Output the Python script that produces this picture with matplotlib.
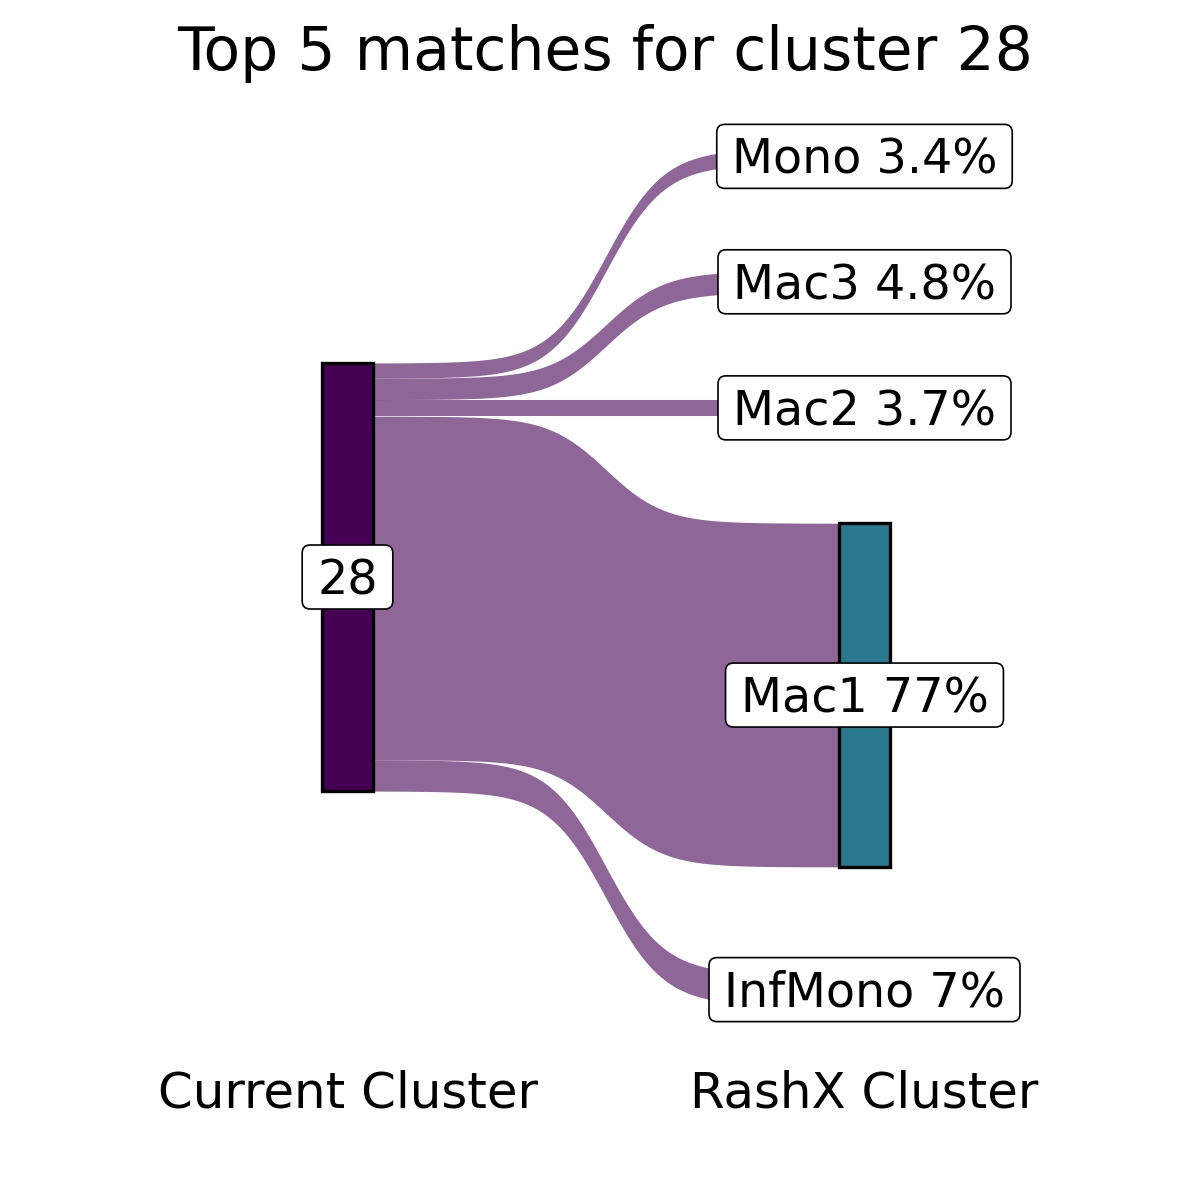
"""Sankey of the top 5 RashX matches for cluster 28 (ggsankey look-alike)."""
import numpy as np
import matplotlib

matplotlib.use("Agg")
import matplotlib.pyplot as plt
from matplotlib.patches import Rectangle, FancyBboxPatch
from matplotlib.transforms import IdentityTransform, ScaledTranslation

# ---- data ----
source = "28"
targets = ["Mono", "Mac3", "Mac2", "Mac1", "InfMono"]   # top -> bottom
pct = [3.4, 4.8, 3.7, 77, 7]
pct_labels = ["3.4%", "4.8%", "3.7%", "77%", "7%"]
axis_labels = ["Current Cluster", "RashX Cluster"]
title = "Top 5 matches for cluster 28"

# viridis(6) in factor order: 28, InfMono, Mac1, Mac2, Mac3, Mono
node_col = {"28": "#440154", "InfMono": "#414487", "Mac1": "#2A788E",
            "Mac2": "#22A884", "Mac3": "#7AD151", "Mono": "#FDE725"}

# ---- layout ----
NODE_W = 0.1
SPACE = 24          # gap between stacked nodes on the right
SMOOTH = 8
DPI = 100

fig = plt.figure(figsize=(12, 12), dpi=DPI)
ax = fig.add_axes([0, 0, 1, 1])
ax.set_xlim(0.32785, 2.64894)
ax.set_ylim(-91.64, 177.24)
ax.axis("off")

total = sum(pct)
center = total / 2

# left: one node, flows stacked top->bottom
left_spans = []
y = total
for v in pct:
    left_spans.append((y - v, y))
    y -= v

# right: nodes stacked with gaps, centred on same centre
right_total = total + SPACE * (len(pct) - 1)
y = center + right_total / 2
right_spans = []
for v in pct:
    right_spans.append((y - v, y))
    y -= v + SPACE


def sig(n=300):
    s = np.linspace(-SMOOTH, SMOOTH, n)
    return (s + SMOOTH) / (2 * SMOOTH), np.exp(s) / (np.exp(s) + 1)


t, f = sig()
x0, x1 = 1 + NODE_W / 2, 2 - NODE_W / 2
xs = x0 + t * (x1 - x0)
for (lb, lt), (rb, rt) in zip(left_spans, right_spans):
    lo = lb + (rb - lb) * f
    hi = lt + (rt - lt) * f
    ax.fill_between(xs, lo, hi, color=node_col[source], alpha=0.6, lw=0, zorder=1)

# nodes
ax.add_patch(Rectangle((1 - NODE_W / 2, 0), NODE_W, total, facecolor=node_col[source],
                       edgecolor="black", lw=2.4, zorder=3))
for name, (rb, rt) in zip(targets, right_spans):
    ax.add_patch(Rectangle((2 - NODE_W / 2, rb), NODE_W, rt - rb, facecolor=node_col[name],
                           edgecolor="black", lw=2.4, zorder=3))

# labels with rounded white boxes, centred on the cap height
LAB_FS = 34.3
cap_px = 0.729 * LAB_FS * DPI / 72
shift = ScaledTranslation(0, -cap_px / 2 / DPI, fig.dpi_scale_trans)
labels = [(1, center, source)]
labels += [(2, (rb + rt) / 2, f"{n} {p}") for n, (rb, rt), p in zip(targets, right_spans, pct_labels)]

texts = []
for lx, ly, s in labels:
    txt = ax.text(lx, ly, s, ha="center", va="baseline", fontsize=LAB_FS,
                  transform=ax.transData + shift, zorder=6)
    texts.append((lx, ly, txt))

fig.canvas.draw()
renderer = fig.canvas.get_renderer()
PADX, BOX_H = 15, 64
for lx, ly, txt in texts:
    w = txt.get_window_extent(renderer).width
    cx, cy = ax.transData.transform((lx, ly))
    box = FancyBboxPatch((cx - w / 2 - PADX, cy - BOX_H / 2), w + 2 * PADX, BOX_H,
                         boxstyle="round,pad=0,rounding_size=8", facecolor="white",
                         edgecolor="black", lw=1.2, transform=IdentityTransform(), zorder=5)
    ax.add_patch(box)

# x labels and title
for xi, lab in zip([1, 2], axis_labels):
    px = ax.transData.transform((xi, 0))[0] / (12 * DPI)
    fig.text(px, 1 - 1108 / 1200, lab, ha="center", va="baseline", fontsize=35.9)
fig.text(605 / 1200, 1 - 70 / 1200, title, ha="center", va="baseline", fontsize=43.2)

fig.savefig("out.png", dpi=DPI)
